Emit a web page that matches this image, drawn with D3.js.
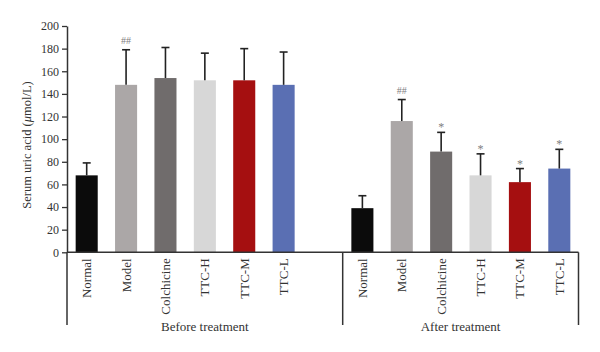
<!DOCTYPE html>
<html>
<head>
<meta charset="utf-8">
<script src="https://cdn.jsdelivr.net/npm/d3@7"></script>
<style>
  body { margin: 0; background: #fff; }
  svg { display: block; font-family: "Liberation Serif", "DejaVu Serif", serif; }
</style>
</head>
<body>
<div id="chart"></div>
<script>
// groups and categories
var groups = ["Before treatment", "After treatment"];
var categories = ["Normal", "Model", "Colchicine", "TTC-H", "TTC-M", "TTC-L"];
var colors = ["#0b0b0b", "#aba7a7", "#706c6c", "#d7d7d7", "#a50f10", "#5a6fb3"];

// mean values and SD (umol/L)
var beforeMean = [68, 148, 154, 152, 152, 148];
var beforeSd = [11, 31, 27, 24, 28, 29];
var afterMean = [39, 116, 89, 68, 62, 74];
var afterSd = [11, 19, 17, 19, 12, 17];

// significance marks
var beforeMarks = ["", "##", "", "", "", ""];
var afterMarks = ["", "##", "*", "*", "*", "*"];

var yTicks = [0, 20, 40, 60, 80, 100, 120, 140, 160, 180, 200];

var width = 600, height = 352;
var margin = { top: 26, left: 67, right: 22, bottom: 100 };
var plotBottom = 252.3;

// build slot list: 6 before, one blank, 6 after
var slots = [];
categories.forEach(function(c) { slots.push("B-" + c); });
slots.push("blank");
categories.forEach(function(c) { slots.push("A-" + c); });

var bars = [];
categories.forEach(function(c, i) {
    bars.push({ key: "B-" + c, name: c, value: beforeMean[i], sd: beforeSd[i], mark: beforeMarks[i], color: colors[i] });
});
categories.forEach(function(c, i) {
    bars.push({ key: "A-" + c, name: c, value: afterMean[i], sd: afterSd[i], mark: afterMarks[i], color: colors[i] });
});

var x = d3.scaleBand()
    .domain(slots)
    .range([margin.left, width - margin.right + 1])
    .paddingInner(0.44)
    .paddingOuter(0.22);

var y = d3.scaleLinear()
    .domain([0, 200])
    .range([plotBottom, margin.top]);

var svg = d3.select("#chart").append("svg")
    .attr("width", width)
    .attr("height", height);

// bars
svg.selectAll(".bar")
    .data(bars)
    .enter().append("rect")
    .attr("class", "bar")
    .attr("x", function(d) { return x(d.key); })
    .attr("width", x.bandwidth())
    .attr("y", function(d) { return y(d.value); })
    .attr("height", function(d) { return y(0) - y(d.value); })
    .attr("fill", function(d) { return d.color; });

// error bars (upper only)
var err = svg.selectAll(".err")
    .data(bars)
    .enter().append("g")
    .attr("class", "err")
    .attr("stroke", "#222")
    .attr("stroke-width", 1.6);

err.append("line")
    .attr("x1", function(d) { return x(d.key) + x.bandwidth() / 2; })
    .attr("x2", function(d) { return x(d.key) + x.bandwidth() / 2; })
    .attr("y1", function(d) { return y(d.value); })
    .attr("y2", function(d) { return y(d.value + d.sd); });

err.append("line")
    .attr("x1", function(d) { return x(d.key) + x.bandwidth() / 2 - 4; })
    .attr("x2", function(d) { return x(d.key) + x.bandwidth() / 2 + 4; })
    .attr("y1", function(d) { return y(d.value + d.sd); })
    .attr("y2", function(d) { return y(d.value + d.sd); });

// significance marks
svg.selectAll(".mark")
    .data(bars.filter(function(d) { return d.mark; }))
    .enter().append("text")
    .attr("class", "mark")
    .attr("x", function(d) { return x(d.key) + x.bandwidth() / 2; })
    .attr("y", function(d) { return y(d.value + d.sd) - (d.mark == "*" ? 1 : 6); })
    .attr("text-anchor", "middle")
    .attr("fill", "#808080")
    .style("font-size", d => d.mark == "*" ? "12px" : "10px")
    .text(function(d) { return d.mark; });

// y axis
var yAxis = svg.append("g")
    .attr("transform", "translate(" + margin.left + ",0)")
    .call(d3.axisLeft(y).tickValues(yTicks).tickSize(5).tickSizeOuter(0));
yAxis.select(".domain").attr("stroke", "#333").attr("stroke-width", 1.5);
yAxis.selectAll(".tick line").attr("stroke", "#333").attr("stroke-width", 1.3);
yAxis.selectAll(".tick text")
    .attr("x", -8)
    .attr("fill", "#333")
    .style("font-size", "12px")
    .style("font-family", "Liberation Serif, serif");

// x axis line
var xEnd = width - margin.right + 0.5;
svg.append("line")
    .attr("x1", margin.left).attr("x2", xEnd)
    .attr("y1", plotBottom).attr("y2", plotBottom)
    .attr("stroke", "#333").attr("stroke-width", 1.5);

// group separators
var sepBottom = 325;
var sepXs = [margin.left, x("A-Normal") - x.step() * x.paddingInner() / 2, xEnd];
svg.selectAll(".sep")
    .data(sepXs)
    .enter().append("line")
    .attr("class", "sep")
    .attr("x1", d => d).attr("x2", d => d)
    .attr("y1", plotBottom).attr("y2", sepBottom)
    .attr("stroke", "#333").attr("stroke-width", 1.5);

// category labels (rotated)
svg.selectAll(".cat")
    .data(bars)
    .enter().append("text")
    .attr("class", "cat")
    .attr("transform", function(d) {
        return "translate(" + (x(d.key) + x.bandwidth() / 2) + "," + (plotBottom + 6) + ") rotate(-90)";
    })
    .attr("text-anchor", "end")
    .attr("dy", "0.35em")
    .attr("fill", "#333")
    .style("font-size", "13px")
    .text(function(d) { return d.name; });

// group labels
svg.selectAll(".grp")
    .data(groups)
    .enter().append("text")
    .attr("class", "grp")
    .attr("x", function(d, i) { return (sepXs[i] + sepXs[i + 1]) / 2; })
    .attr("y", 331)
    .attr("text-anchor", "middle")
    .attr("fill", "#333")
    .style("font-size", "13px")
    .text(function(d) { return d; });

// y axis title
var title = svg.append("text")
    .attr("transform", "translate(31," + 145 + ") rotate(-90)")
    .attr("text-anchor", "middle")
    .attr("fill", "#333")
    .style("font-size", "12.5px");
title.append("tspan").text("Serum uric acid (");
title.append("tspan").style("font-style", "italic").text("\u03bc");
title.append("tspan").text("mol/L)");
</script>
</body>
</html>
